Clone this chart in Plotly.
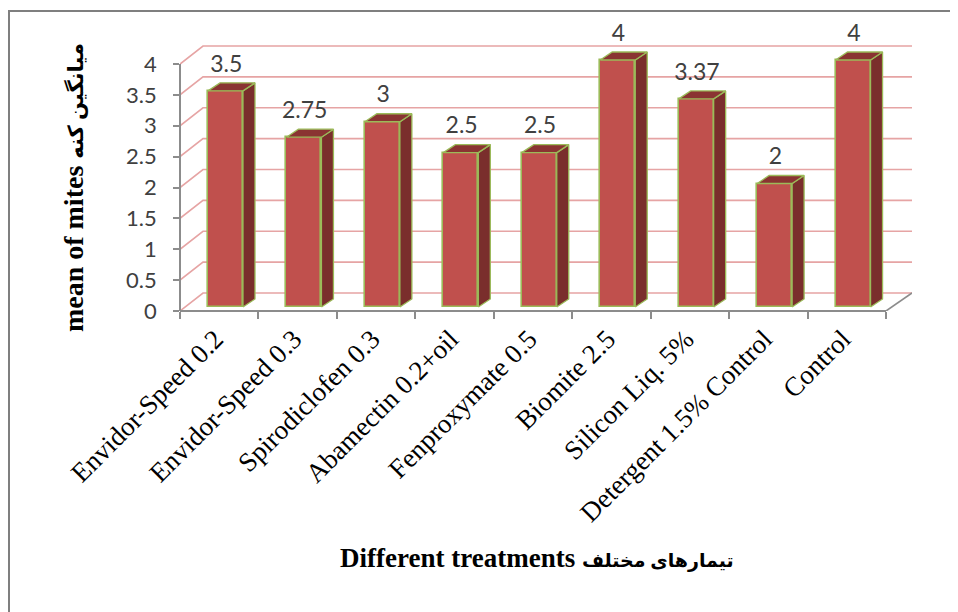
import plotly.graph_objects as go

categories = ["Envidor-Speed 0.2", "Envidor-Speed 0.3", "Spirodiclofen 0.3",
              "Abamectin 0.2+oil", "Fenproxymate 0.5", "Biomite 2.5",
              "Silicon Liq. 5%", "Detergent 1.5% Control", "Control"]
values = [3.5, 2.75, 3, 2.5, 2.5, 4, 3.37, 2, 4]
value_labels = ["3.5", "2.75", "3", "2.5", "2.5", "4", "3.37", "2", "4"]
y_ticks = [0, 0.5, 1, 1.5, 2, 2.5, 3, 3.5, 4]
y_ticktext = ["0", "0.5", "1", "1.5", "2", "2.5", "3", "3.5", "4"]

# ---- geometry / style (pixel-derived, not data) ----
# the page adds an 8px body margin, so the figure is 8px smaller each way
W, H = 950, 604
L, R, T, B = 172, 46, 12, 301
plot_w = W - L - R
plot_h = H - T - B
n = len(categories)
cat_px = 706 / n
x_max = -0.5 + plot_w / cat_px
y_unit_px = 61.75
y_max = plot_h / y_unit_px

wall_dx = 23 / cat_px
wall_dy = 18 / y_unit_px
floor_dx = 26 / cat_px
base = 4 / y_unit_px
face_l, face_r = -0.143, 0.303
side_dx = 12 / cat_px
top_dy = 8 / y_unit_px

FRONT = "#C0504D"
SIDE = "#7A2E2C"
TOP = "#8A3432"
EDGE = "#9BBB59"
GRID = "#E6A4A4"
AXIS = "#8C8C8C"

fig = go.Figure()

shapes = []
for v in y_ticks:
    path = (f"M {-0.5},{v} L {-0.5 + wall_dx},{v + wall_dy} "
            f"L {x_max},{v + wall_dy}")
    shapes.append(dict(type="path", path=path, xref="x", yref="y",
                       line=dict(color=GRID, width=1.6), layer="below"))
shapes.append(dict(type="path",
                   path=f"M {n - 0.5},0 L {n - 0.5 + floor_dx},{wall_dy}",
                   xref="x", yref="y",
                   line=dict(color=AXIS, width=1.6), layer="below"))
# chart frame (left edge at x=0, top at y=3 in figure pixels)
shapes.append(dict(type="rect", xref="paper", yref="paper",
                   x0=(1 - L) / plot_w, x1=(W + 20 - L) / plot_w,
                   y0=(plot_h + T - (H + 20)) / plot_h,
                   y1=(plot_h + T - 3) / plot_h,
                   line=dict(color="#7F7F7F", width=2), layer="below"))

# front faces
fig.add_trace(go.Bar(
    x=[i + (face_l + face_r) / 2 for i in range(n)], y=values,
    base=[base] * n, width=face_r - face_l,
    marker=dict(color=FRONT, line=dict(color=EDGE, width=1.6)),
    hoverinfo="skip", showlegend=False))

# side faces
sx, sy = [], []
for i, v in enumerate(values):
    x0 = i + face_r
    sx += [x0, x0 + side_dx, x0 + side_dx, x0, x0, None]
    sy += [base, base + top_dy, base + v + top_dy, base + v, base, None]
fig.add_trace(go.Scatter(x=sx, y=sy, mode="lines", fill="toself",
                         fillcolor=SIDE, line=dict(color=EDGE, width=1.3),
                         hoverinfo="skip", showlegend=False))
# top faces
tx, ty = [], []
for i, v in enumerate(values):
    xl, xr = i + face_l, i + face_r
    top = base + v
    tx += [xl, xl + side_dx, xr + side_dx, xr, xl, None]
    ty += [top, top + top_dy, top + top_dy, top, top, None]
fig.add_trace(go.Scatter(x=tx, y=ty, mode="lines", fill="toself",
                         fillcolor=TOP, line=dict(color=EDGE, width=1.3),
                         hoverinfo="skip", showlegend=False))

# data labels
fig.add_trace(go.Scatter(
    x=[i + 0.09 for i in range(n)], y=[v + 0.47 for v in values],
    text=value_labels, mode="text",
    textfont=dict(family="Lato", size=23, color="#404040"),
    hoverinfo="skip", showlegend=False, cliponaxis=False))

# invisible trace to host the visible front axes
fig.add_trace(go.Scatter(x=[-0.5], y=[0], xaxis="x2", yaxis="y2",
                         mode="markers", marker=dict(opacity=0),
                         hoverinfo="skip", showlegend=False))

fig.update_layout(
    width=W, height=H,
    margin=dict(l=L, r=R, t=T, b=B, autoexpand=False),
    paper_bgcolor="white", plot_bgcolor="rgba(0,0,0,0)",
    shapes=shapes, bargap=0,
    xaxis=dict(range=[-0.5, x_max], domain=[0, 1], showgrid=False,
               zeroline=False, showline=False, ticks="",
               tickvals=list(range(n)), ticktext=categories, tickangle=-45,
               tickfont=dict(family="Liberation Serif", size=27, color="black"),
               ticklabelstandoff=6, ticklabelshift=-4,
               automargin=False),
    yaxis=dict(range=[0, y_max], domain=[0, 1], showgrid=False,
               zeroline=False, showline=False, showticklabels=False,
               ticks="", automargin=False),
    xaxis2=dict(range=[-0.5, n - 0.5], domain=[0, 706 / plot_w],
                anchor="free", position=0, showgrid=False, zeroline=False,
                showline=True, linecolor=AXIS, linewidth=1.6,
                tickvals=[k - 0.5 for k in range(n + 1)], ticks="outside",
                ticklen=7, tickcolor=AXIS, tickwidth=1.6,
                showticklabels=False, automargin=False),
    yaxis2=dict(range=[0, 4], domain=[0, 4 / y_max], anchor="free",
                position=0, showgrid=False, zeroline=False,
                showline=True, linecolor=AXIS, linewidth=1.6,
                tickvals=y_ticks, ticktext=y_ticktext, ticks="outside",
                ticklen=6, tickcolor=AXIS, tickwidth=1.6,
                tickfont=dict(family="Lato", size=22, color="#404040"),
                ticklabelstandoff=12, automargin=False,
                title=dict(text="<b>mean of mites <span style='font-size:21px'>میانگین کنه</span></b>",
                           font=dict(family="Liberation Serif, DejaVu Sans",
                                     size=28, color="black"),
                           standoff=33)),
    annotations=[dict(
        text="<b>Different treatments <span style='font-size:19px'>تیمارهای مختلف</span></b>",
        xref="paper", yref="paper", x=(529 - L) / plot_w,
        y=(plot_h + T - 550) / plot_h, xanchor="center", yanchor="middle",
        showarrow=False,
        font=dict(family="Liberation Serif, DejaVu Sans", size=27,
                  color="black"))],
)

fig.write_html("out.html")
